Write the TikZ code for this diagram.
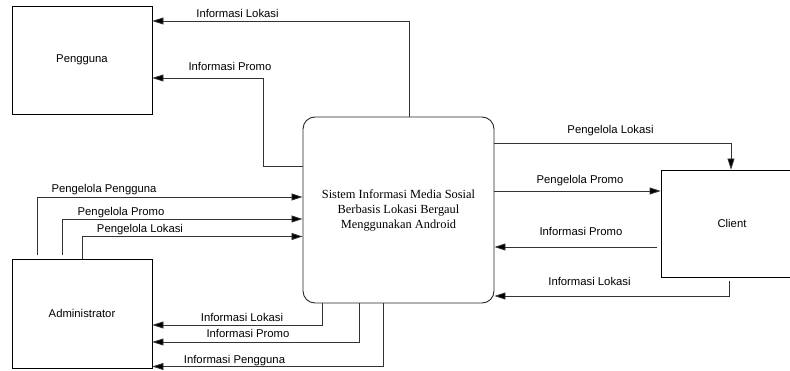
\documentclass[tikz,border=0pt]{standalone}
\usepackage{fontspec}
\setmainfont{Liberation Serif}
\setsansfont{Liberation Sans}
\usetikzlibrary{arrows.meta}
\begin{document}
\begin{tikzpicture}[x=1pt,y=-1pt,
  entity/.style={draw=black, line width=0.8pt, inner sep=0pt,
    font=\sffamily\fontsize{11.3}{13}\selectfont},
  process/.style={draw=black!85, line width=0.9pt, rounded corners=12pt, align=center,
    inner sep=0pt, font=\fontsize{12.4}{15}\selectfont},
  flow/.style={draw=black!80, line width=0.8pt, -{Triangle[length=11pt,width=7pt,fill=black]}},
  lbl/.style={font=\sffamily\fontsize{11.3}{13}\selectfont, inner sep=0pt, anchor=base}]
\useasboundingbox (0,0) rectangle (790,371);

% entities
\node[entity, minimum width=140pt, minimum height=108pt] (peng) at (82,60) {Pengguna};
\node[entity, minimum width=140pt, minimum height=109pt] (admin) at (82,313.5) {Administrator};
\node[entity, minimum width=142pt, minimum height=107pt] (client) at (732,223.5) {Client};
\node[process, minimum width=191pt, minimum height=186pt] (sys) at (398.5,210)
  {Sistem Informasi Media Sosial\\Berbasis Lokasi Bergaul\\Menggunakan Android};

% bend coordinates
\coordinate (t1) at (409,21);
\coordinate (t2a) at (263,166);
\coordinate (t2b) at (263,78);
\coordinate (a1) at (37,197);
\coordinate (a2) at (62,219);
\coordinate (a3) at (82,236.5);
\coordinate (b1) at (322,325);
\coordinate (b2) at (359,342);
\coordinate (b3) at (383,366.5);
\coordinate (r1) at (731,143);
\coordinate (r2) at (661,191);
\coordinate (r3) at (657,247);
\coordinate (r4) at (729,296);

% connectors
\draw[flow] (sys.north -| t1) |- (peng.east |- t1);
\draw[flow] (sys.west |- t2a) -| (t2b) -- (peng.east |- t2b);
\draw[flow] ([yshift=4pt]admin.north -| a1) |- (sys.west |- a1);
\draw[flow] ([yshift=4pt]admin.north -| a2) |- (sys.west |- a2);
\draw[flow] (admin.north -| a3) |- (sys.west |- a3);
\draw[flow] (sys.south -| b1) |- (admin.east |- b1);
\draw[flow] (sys.south -| b2) |- (admin.east |- b2);
\draw[flow] (sys.south -| b3) |- (admin.east |- b3);
\draw[flow] (sys.east |- r1) -| (client.north -| r1);
\draw[flow] (sys.east |- r2) -- (client.west |- r2);
\draw[flow] (r3) -- (sys.east |- r3);
\draw[flow] ([yshift=-4pt]client.south -| r4) |- (sys.east |- r4);

% labels
\node[lbl] (l1) at (237.5,17.7) {Informasi Lokasi};
\node[lbl] (l2) at (230,71) {Informasi Promo};
\node[lbl] (l3) at (104,192.3) {Pengelola Pengguna};
\node[lbl] (l4) at (121,215.7) {Pengelola Promo};
\node[lbl] (l5) at (140,232.3) {Pengelola Lokasi};
\node[lbl] (l6) at (242,321.7) {Informasi Lokasi};
\node[lbl] (l7) at (248,337.7) {Informasi Promo};
\node[lbl] (l8) at (234.5,363.3) {Informasi Pengguna};
\node[lbl] (l9) at (610.5,134) {Pengelola Lokasi};
\node[lbl] (l10) at (580,184) {Pengelola Promo};
\node[lbl] (l11) at (581,236) {Informasi Promo};
\node[lbl] (l12) at (589.5,285.7) {Informasi Lokasi};
\end{tikzpicture}
\end{document}
